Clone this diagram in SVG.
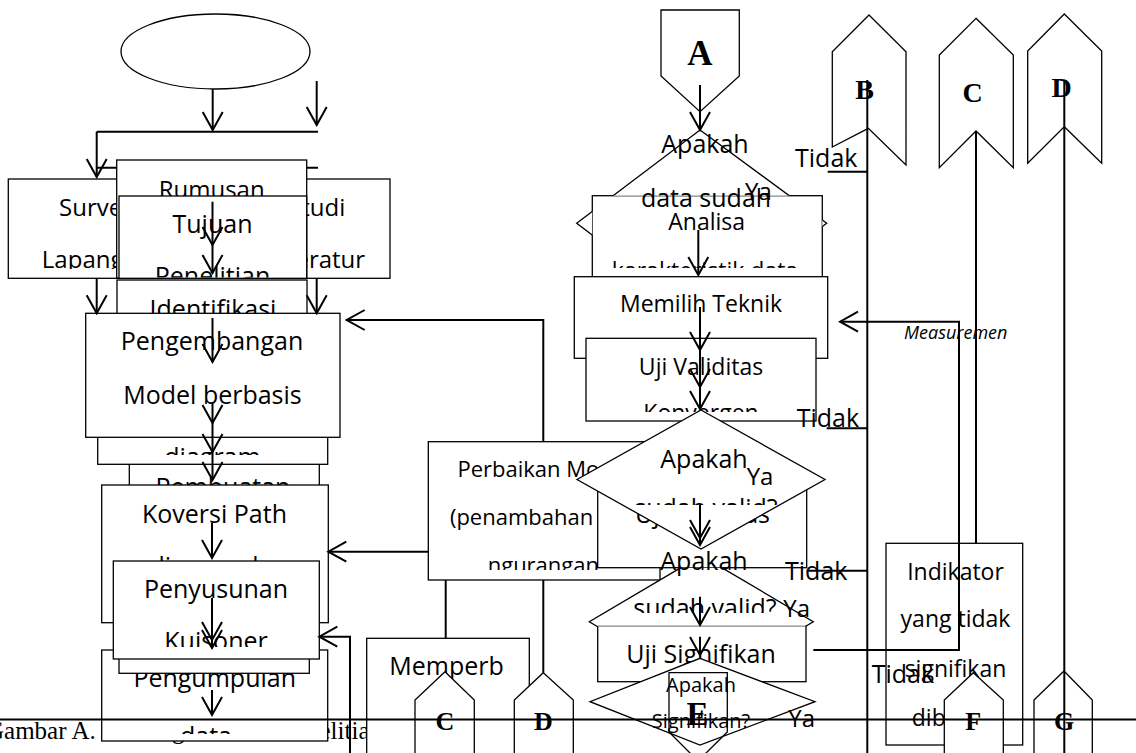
<svg xmlns="http://www.w3.org/2000/svg" width="1136" height="753" viewBox="0 0 1136 753">
<style>
.bx{fill:#fff;stroke:#000;stroke-width:1.3}
.nf{fill:none;stroke:#000;stroke-width:1.3}
.ln{fill:none;stroke:#000;stroke-width:2}
.ar{fill:none;stroke:#000;stroke-width:2;marker-end:url(#ah)}
text{font-family:'Open Sans','Noto Sans',sans-serif;fill:#000}
.s25{font-size:25px}
.s24{font-size:24px}
.s23{font-size:23px}
.s22{font-size:22px}
.s20{font-size:20px}
.m{text-anchor:middle}
.it{font-style:italic;font-size:18px}
.cl{font-family:'Liberation Serif','Times New Roman',serif;font-weight:bold;text-anchor:middle}
.cap{font-family:'Liberation Serif','Times New Roman',serif;font-size:25px}
</style>
<defs>
<marker id="ah" markerUnits="userSpaceOnUse" viewBox="-20 -12 22 24" markerWidth="22" markerHeight="24" refX="0" refY="0" orient="auto">
<path d="M-18,-10 L0,0 L-18,10" fill="none" stroke="#000" stroke-width="2"/>
</marker>
<clipPath id="cSurvey"><rect x="0" y="170" width="400" height="99"/></clipPath>
<clipPath id="cTujuan"><rect x="119" y="196" width="188" height="81.5"/></clipPath>
<clipPath id="cDiagram"><rect x="97" y="400" width="231" height="55"/></clipPath>
<clipPath id="cKuis"><rect x="113" y="561" width="207" height="86"/></clipPath>
<clipPath id="cData"><rect x="101" y="650" width="227" height="84"/></clipPath>
<clipPath id="cKarak"><rect x="592" y="195" width="231" height="73"/></clipPath>
<clipPath id="cKonv"><rect x="586" y="338" width="231" height="74"/></clipPath>
<clipPath id="cNgur"><rect x="428" y="441" width="232" height="129"/></clipPath>
<clipPath id="cValid2"><rect x="570" y="405" width="262" height="100"/></clipPath>
<clipPath id="cValid3"><rect x="585" y="550" width="232" height="63"/></clipPath>
<!-- outline of decision 1 stays hidden behind the Analisa box -->
<clipPath id="cDec1"><path clip-rule="evenodd" d="M0,0H1136V753H0Z M592.3,195.7H822.3V290H592.3Z"/></clipPath>
<!-- outline of decision 3 stays hidden behind the two boxes around it -->
<clipPath id="cDec3"><path clip-rule="evenodd" d="M0,0H1136V753H0Z M597.7,486H806.7V567.7H597.7Z M597.7,625.7H806V681.7H597.7Z"/></clipPath>
</defs>
<rect width="1136" height="753" fill="#fff"/>

<!-- figure caption sitting behind the chart -->
<text id="caption" class="cap" y="738.5"><tspan x="-14">Gambar A.</tspan><tspan x="136">Diagram</tspan><tspan x="230">Alir</tspan><tspan x="282">Penelitian</tspan></text>

<!-- left column -->
<g id="start"><ellipse class="bx" cx="215.5" cy="51.5" rx="94.5" ry="37.5"/></g>

<g id="survey-lapangan">
<rect class="bx" x="8.3" y="179" width="176.7" height="99.3"/>
<g clip-path="url(#cSurvey)"><text class="s24 m" x="96.7" y="216">Survey</text><text class="s24 m" x="96.7" y="268">Lapangan</text></g>
</g>
<g id="studi-literatur">
<rect class="bx" x="243.4" y="179" width="146.6" height="99.3"/>
<g clip-path="url(#cSurvey)"><text class="s24 m" x="316.7" y="216">Studi</text><text class="s24 m" x="316.7" y="268">Literatur</text></g>
</g>

<g id="connector-split"><line class="ln" x1="96.7" y1="167.7" x2="318" y2="167.7"/></g>

<g id="rumusan"><rect class="bx" x="116.7" y="160" width="190" height="118"/><text class="s24 m" x="211.7" y="198">Rumusan</text></g>
<g id="tujuan"><rect class="bx" x="119" y="196" width="187.7" height="82.3"/>
<g clip-path="url(#cTujuan)"><text class="s25 m" x="212.5" y="233">Tujuan</text><text class="s25 m" x="212.5" y="285">Penelitian</text></g></g>
<g id="identifikasi"><rect class="bx" x="117" y="280" width="190" height="60"/><text class="s25 m" x="213" y="317.5">Identifikasi</text></g>
<g id="pembuatan"><rect class="bx" x="129.3" y="455" width="190" height="40"/><text class="s25 m" x="223" y="496">Pembuatan</text></g>
<g id="diagram"><rect class="bx" x="97.7" y="400" width="230" height="64.3"/><text class="s25 m" x="212.5" y="465.5" clip-path="url(#cDiagram)">diagram</text></g>
<g id="pengembangan"><rect class="bx" x="85.7" y="313.3" width="254.3" height="124"/>
<text class="s25 m" x="212" y="350">Pengembangan</text><text class="s25 m" x="212.5" y="404">Model berbasis</text></g>
<g id="koversi"><rect class="bx" x="101.7" y="485" width="226.6" height="137.7"/>
<text class="s25 m" x="214.5" y="522.7">Koversi Path</text><text class="s25 m" x="214.5" y="575">diagram ke</text></g>
<g id="pengumpulan"><rect class="bx" x="101.7" y="650" width="226" height="91"/>
<g clip-path="url(#cData)"><text class="s25 m" x="214.7" y="686.7">Pengumpulan</text><text class="s25 m" x="206" y="745">data</text></g></g>
<g id="kuisioner-back"><rect class="bx" x="119" y="640" width="190.3" height="33.3"/></g>
<g id="penyusunan"><rect class="bx" x="113.3" y="561" width="206" height="98"/>
<g clip-path="url(#cKuis)"><text class="s25 m" x="216" y="598.3">Penyusunan</text><text class="s25 m" x="216" y="650">Kuisoner</text></g></g>

<!-- revision branch -->
<g id="perbaikan"><rect class="bx" x="428.3" y="441.7" width="231.7" height="138.3"/>
<text class="s22 m" x="544" y="476.7">Perbaikan Model</text><text class="s22 m" x="544" y="525">(penambahan dan</text>
<text class="s22" x="487.7" y="573" clip-path="url(#cNgur)">ngurangan</text></g>
<g id="memperb"><rect class="bx" x="366.7" y="638.3" width="162.6" height="130"/><text class="s25" x="389.3" y="675">Memperb</text></g>
<g id="conn-c-out"><polygon class="bx" points="445,671.7 474.3,700 474.3,760 415,760 415,700"/><text class="cl" x="445" y="730" font-size="26">C</text></g>
<g id="conn-d-out"><polygon class="bx" points="543.3,672.7 573.3,700 573.3,760 514.3,760 514.3,700"/><text class="cl" x="543.3" y="730" font-size="26">D</text></g>

<!-- centre column -->
<g id="conn-a"><polygon class="bx" points="661,10 739.3,10 739.3,76 700,111.7 661,76"/><text class="cl" x="700" y="65" font-size="35">A</text></g>
<g id="analisa"><rect class="bx" x="592.3" y="195.7" width="230" height="90"/>
<text class="s23 m" x="706.7" y="230">Analisa</text><text class="s23 m" x="705" y="279" clip-path="url(#cKarak)">karakteristik data</text></g>
<g id="decision-1"><polygon class="bx" clip-path="url(#cDec1)" points="700,130 826.7,223.3 700,316.6 576.7,223.3"/>
<text class="s25 m" x="705" y="153.3">Apakah</text><text class="s25 m" x="706" y="206.7">data sudah</text></g>
<g id="memilih"><rect class="bx" x="574.3" y="276.7" width="253.4" height="81.6"/><text class="s23 m" x="701" y="311.7">Memilih Teknik</text></g>
<g id="uji-validitas"><rect class="bx" x="586" y="338.3" width="230" height="82.7"/>
<text class="s23 m" x="701" y="375">Uji Validitas</text><text class="s23 m" x="701" y="421" clip-path="url(#cKonv)">Konvergen</text></g>
<g id="uji-validitas-2"><rect class="bx" x="597.7" y="486" width="209" height="81.7"/><text class="s25 m" x="702.5" y="523">Uji Validitas</text></g>
<g id="decision-2"><polygon class="bx" points="701,410 825,479.5 701,549 577,479.5"/>
<text class="s25 m" x="704" y="468.3">Apakah</text><text class="s25 m" x="706" y="517" clip-path="url(#cValid2)">sudah valid?</text></g>
<g id="uji-signifikan"><rect class="bx" x="597.7" y="625.7" width="208.3" height="56"/><text class="s25 m" x="701" y="663.3">Uji Signifikan</text></g>
<g id="decision-3"><polygon class="bx" clip-path="url(#cDec3)" points="701.3,555.6 813.3,621.7 701.3,687.8 589.3,621.7"/>
<text class="s25 m" x="704" y="570">Apakah</text><text class="s25 m" x="705" y="616.5" clip-path="url(#cValid3)">sudah valid?</text></g>
<g id="decision-4"><polygon class="bx" points="700,658.3 815,701.7 700,745 590,701.7"/>
<text class="s20 m" x="701" y="691.7">Apakah</text><text class="s20 m" x="701" y="728.3">Signifikan?</text></g>
<g id="conn-e"><polygon class="nf" points="669,672.7 727.3,672.7 727.3,732 698,761 669,732"/><text class="cl" x="697.5" y="725" font-size="33">E</text></g>

<!-- right column -->
<g id="conn-b"><polygon class="bx" points="869,15 906,51.7 906,165 868.3,128.3 832.3,147 832.3,51.7"/><text class="cl" x="864.5" y="99" font-size="28">B</text></g>
<g id="conn-c"><polygon class="bx" points="976,18.3 1013.3,55 1013.3,167.7 976,131 939.3,167.7 939.3,55"/><text class="cl" x="972.5" y="101.7" font-size="28">C</text></g>
<g id="conn-d"><polygon class="bx" points="1064.3,14 1101.7,51 1101.7,163.3 1064.3,126.7 1027.7,163.3 1027.7,51"/><text class="cl" x="1061.7" y="96.7" font-size="28">D</text></g>
<g id="indikator"><rect class="bx" x="886" y="543.3" width="136.7" height="201.7"/>
<text class="s23 m" x="955.5" y="580">Indikator</text><text class="s23 m" x="955.5" y="626.7">yang tidak</text>
<text class="s23 m" x="955.5" y="677.3">signifikan</text><text class="s23 m" x="955.5" y="726">dibuang</text></g>
<g id="conn-f"><polygon class="bx" points="973.3,672.7 1003.3,700 1003.3,760 944.3,760 944.3,700"/><text class="cl" x="973.3" y="730" font-size="26">F</text></g>
<g id="conn-g"><polygon class="bx" points="1064,671 1092.3,700 1092.3,760 1034,760 1034,700"/><text class="cl" x="1064" y="730" font-size="26">G</text></g>

<!-- connectors -->
<g id="connectors">
<line class="ar" x1="212.7" y1="89" x2="212.7" y2="130"/>
<line class="ar" x1="316.7" y1="81" x2="316.7" y2="125"/>
<line class="ln" x1="96.7" y1="131.7" x2="318" y2="131.7"/>
<line class="ar" x1="96.7" y1="131.7" x2="96.7" y2="177"/>
<line class="ar" x1="96.7" y1="278.3" x2="96.7" y2="313.3"/>
<line class="ar" x1="316.7" y1="278.3" x2="316.7" y2="313.3"/>
<line class="ar" x1="212.5" y1="201.7" x2="212.5" y2="245"/>
<line class="ar" x1="212.5" y1="245" x2="212.5" y2="273"/>
<line class="ar" x1="212.5" y1="318" x2="212.5" y2="362"/>
<line class="ar" x1="212.5" y1="403" x2="212.5" y2="423"/>
<line class="ar" x1="212.5" y1="423" x2="212.5" y2="452"/>
<line class="ar" x1="212.5" y1="452" x2="212.5" y2="480"/>
<line class="ar" x1="212" y1="523" x2="212" y2="558"/>
<line class="ar" x1="212" y1="598" x2="212" y2="640"/>
<line class="ar" x1="212" y1="598" x2="212" y2="648"/>
<line class="ar" x1="212" y1="690" x2="212" y2="715"/>
<path class="ar" d="M543.3,441.7 V320 H346.7"/>
<path class="ar" d="M428.3,551.7 H328.3"/>
<path class="ar" d="M350,753 V636.7 H319.3"/>
<line class="ln" x1="445.7" y1="580" x2="445.7" y2="638.3"/>
<line class="ln" x1="543.3" y1="580" x2="543.3" y2="672.7"/>
<line class="ar" x1="700" y1="85" x2="700" y2="130"/>
<line class="ar" x1="698.3" y1="230" x2="698.3" y2="275"/>
<line class="ar" x1="700" y1="307" x2="700" y2="350"/>
<line class="ar" x1="700" y1="350" x2="700" y2="387"/>
<line class="ar" x1="700" y1="387" x2="700" y2="409"/>
<line class="ar" x1="700" y1="505" x2="700" y2="538"/>
<line class="ar" x1="700" y1="505" x2="700" y2="545"/>
<line class="ar" x1="700" y1="596.7" x2="700" y2="625"/>
<line class="ar" x1="700" y1="636.7" x2="700" y2="655"/>
<line class="ln" x1="867.3" y1="80" x2="867.3" y2="753"/>
<line class="ln" x1="976" y1="131" x2="976" y2="543.3"/>
<line class="ln" x1="1064.3" y1="80" x2="1064.3" y2="753"/>
<line class="ln" x1="827.7" y1="171.7" x2="867.3" y2="171.7"/>
<line class="ln" x1="826.7" y1="428.3" x2="867.3" y2="428.3"/>
<line class="ln" x1="806.7" y1="570.7" x2="867.3" y2="570.7"/>
<path class="ar" d="M813.3,650 H959 V321.7 H840"/>
</g>

<!-- branch labels -->
<g id="labels">
<text class="s24" x="745" y="200">Ya</text>
<text class="s24" x="746.7" y="485">Ya</text>
<text class="s24" x="783.3" y="616.7">Ya</text>
<text class="s24" x="788.3" y="726.7">Ya</text>
<text class="s25" x="795" y="166.7">Tidak</text>
<text class="s25" x="796.7" y="426.7">Tidak</text>
<text class="s25" x="785" y="580">Tidak</text>
<text class="s25" x="871.7" y="683.3">Tidak</text>
<text class="it" x="904" y="339">Measuremen</text>
</g>

<!-- page rule across the bottom -->
<line id="page-rule" class="ln" x1="0" y1="719.5" x2="1136" y2="719.5"/>
</svg>
